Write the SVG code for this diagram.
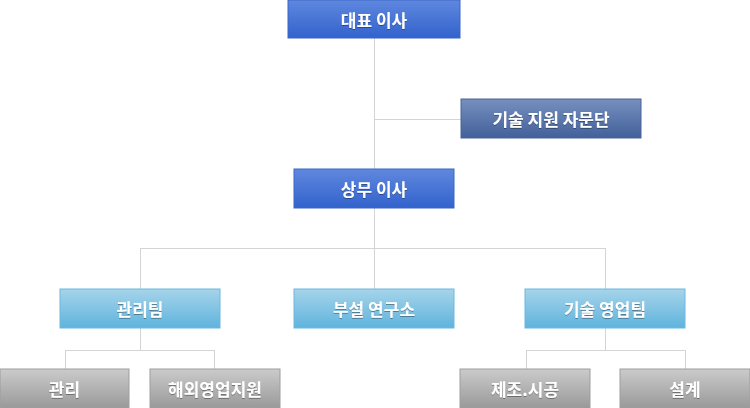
<svg xmlns="http://www.w3.org/2000/svg" width="750" height="408" viewBox="0 0 750 408">
<style>
.t{font-family:"Noto Sans CJK KR","Noto Sans",sans-serif;font-size:17px;font-weight:bold;fill:#ffffff;text-anchor:middle;dominant-baseline:central}
.ln{stroke:#d4d4d4;stroke-width:1;fill:none}
</style>
<defs>
<linearGradient id="gBlue" x1="0" y1="0" x2="0" y2="1"><stop offset="0" stop-color="#5f88de"/><stop offset="1" stop-color="#3262cc"/></linearGradient>
<linearGradient id="gNavy" x1="0" y1="0" x2="0" y2="1"><stop offset="0" stop-color="#7690be"/><stop offset="1" stop-color="#42609a"/></linearGradient>
<linearGradient id="gSky" x1="0" y1="0" x2="0" y2="1"><stop offset="0" stop-color="#a6d4ea"/><stop offset="1" stop-color="#5fb3dd"/></linearGradient>
<linearGradient id="gGray" x1="0" y1="0" x2="0" y2="1"><stop offset="0" stop-color="#cbcbcb"/><stop offset="1" stop-color="#999999"/></linearGradient>
<filter id="sh" x="-10%" y="-10%" width="120%" height="130%"><feDropShadow dx="0" dy="1" stdDeviation="0.6" flood-color="#000" flood-opacity="0.35"/></filter>
</defs>
<g id="connectors">
<path class="ln" d="M374.5 38V169M374.5 119.5H461"/>
<path class="ln" d="M374.5 208V289M140.5 248.5H605.5M140.5 248V289M605.5 248V289"/>
<path class="ln" d="M140.5 328V350.5M65.5 350.5H214.5M65.5 350V369M214.5 350V369"/>
<path class="ln" d="M605.5 328V350.5M526.5 350.5H685.5M526.5 350V369M685.5 350V369"/>
</g>
<g id="ceo"><rect x="288" y="0" width="172" height="38" fill="url(#gBlue)" stroke="#3a66c8"/><text class="t" x="374" y="19" filter="url(#sh)">대표 이사</text></g>
<g id="advisory"><rect x="461" y="99" width="180" height="39" fill="url(#gNavy)" stroke="#4a639a"/><text class="t" x="551" y="118.5" filter="url(#sh)">기술 지원 자문단</text></g>
<g id="director"><rect x="294" y="169" width="160" height="39" fill="url(#gBlue)" stroke="#3a66c8"/><text class="t" x="374" y="188.5" filter="url(#sh)">상무 이사</text></g>
<g id="mgmt-team"><rect x="60" y="289" width="160" height="39" fill="url(#gSky)" stroke="#6cb8de"/><text class="t" x="140" y="308.5" filter="url(#sh)">관리팀</text></g>
<g id="lab"><rect x="294" y="289" width="160" height="39" fill="url(#gSky)" stroke="#6cb8de"/><text class="t" x="374" y="308.5" filter="url(#sh)">부설 연구소</text></g>
<g id="sales-team"><rect x="525" y="289" width="160" height="39" fill="url(#gSky)" stroke="#6cb8de"/><text class="t" x="605" y="308.5" filter="url(#sh)">기술 영업팀</text></g>
<g id="mgmt"><rect x="0" y="369" width="129" height="39" fill="url(#gGray)" stroke="#9e9e9e"/><text class="t" x="64.5" y="388.5" filter="url(#sh)">관리</text></g>
<g id="overseas"><rect x="150" y="369" width="130" height="39" fill="url(#gGray)" stroke="#9e9e9e"/><text class="t" x="215" y="388.5" filter="url(#sh)">해외영업지원</text></g>
<g id="construction"><rect x="460" y="369" width="130" height="39" fill="url(#gGray)" stroke="#9e9e9e"/><text class="t" x="525" y="388.5" filter="url(#sh)">제조.시공</text></g>
<g id="design"><rect x="620" y="369" width="130" height="39" fill="url(#gGray)" stroke="#9e9e9e"/><text class="t" x="685" y="388.5" filter="url(#sh)">설계</text></g>
</svg>
